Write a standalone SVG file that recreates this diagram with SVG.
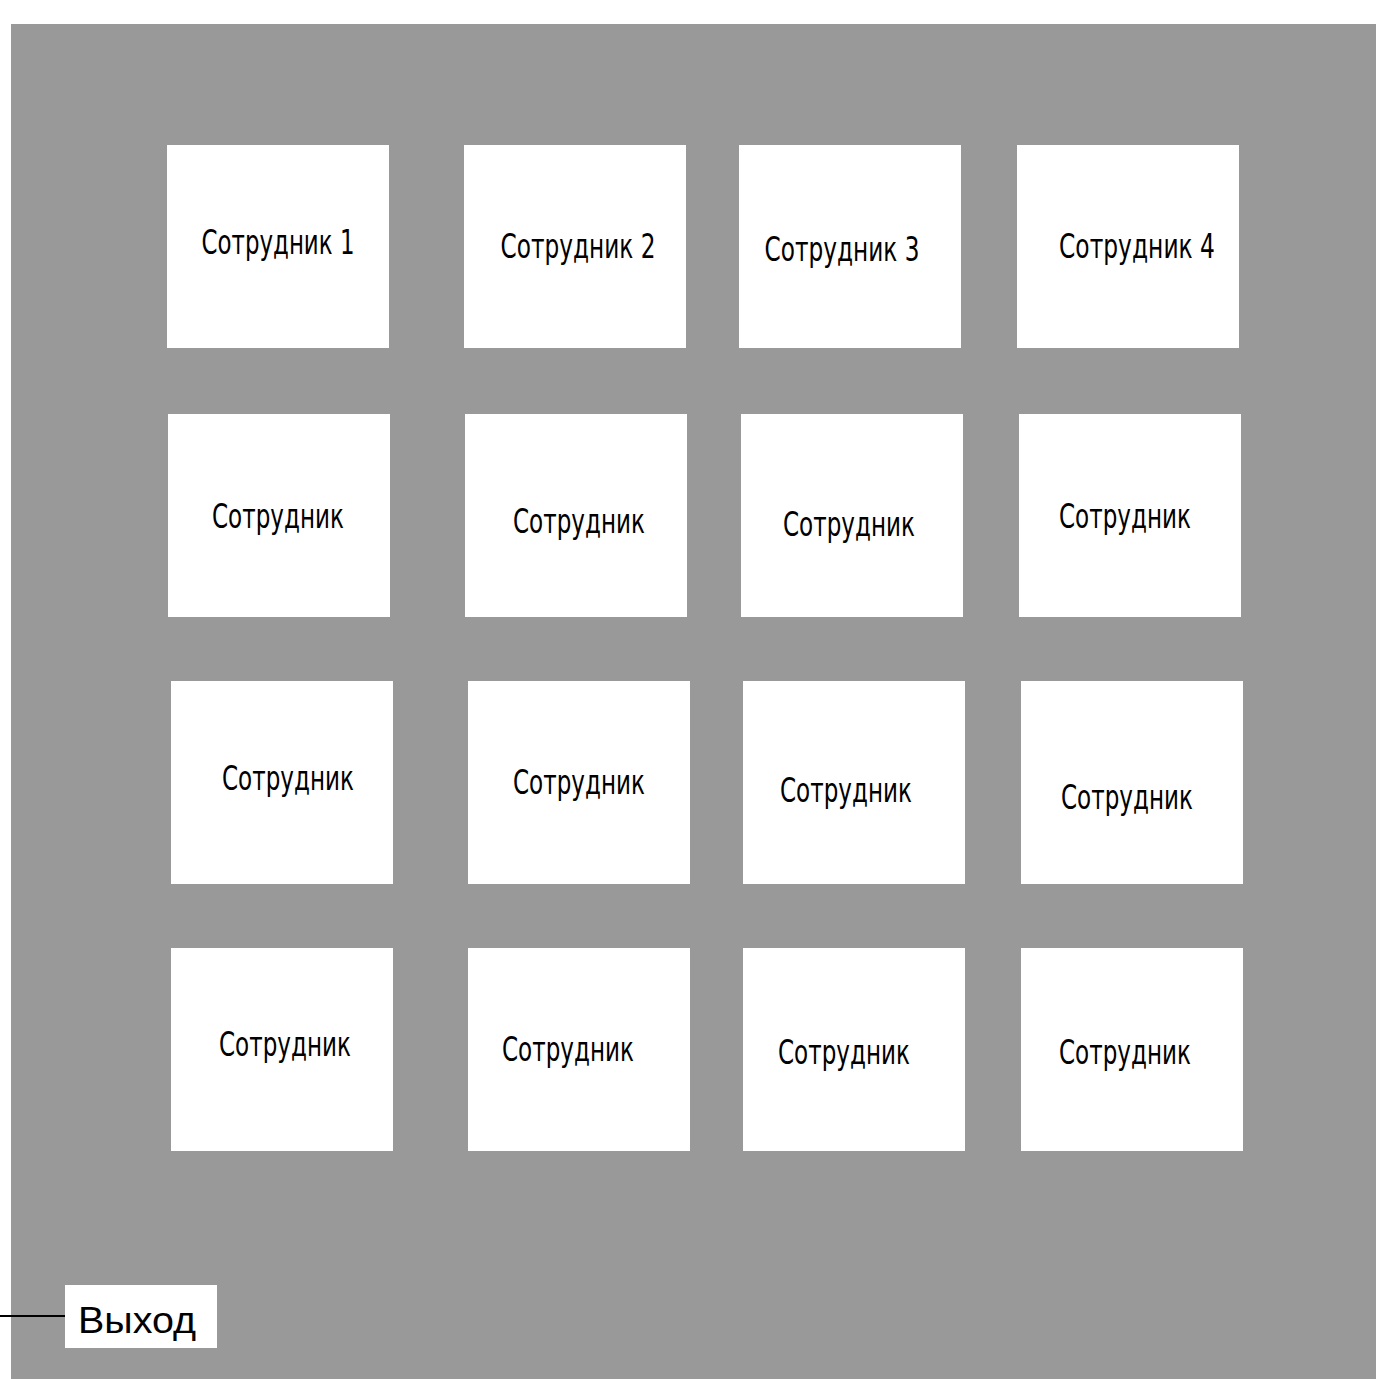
<svg xmlns="http://www.w3.org/2000/svg" width="1376" height="1379" viewBox="0 0 1376 1379">
<style>
.bg{fill:#999999}
.n{fill:#ffffff}
.t{font-family:"DejaVu Sans Condensed","DejaVu Sans",sans-serif;font-size:33px;fill:#000;text-anchor:middle}
.x{font-family:"Liberation Sans",Arial,sans-serif;font-size:36px;fill:#000}
.c{stroke:#000;stroke-width:2;fill:none}
</style>
<rect x="0" y="0" width="1376" height="1379" fill="#ffffff"/>
<rect class="bg" x="11" y="24" width="1365" height="1355"/>
<g id="connectors"><line class="c" x1="0" y1="1316" x2="65" y2="1316"/></g>
<g id="n1"><rect class="n" x="167" y="145" width="222" height="203"/><text class="t" x="278" y="254" textLength="153" lengthAdjust="spacingAndGlyphs">Сотрудник 1</text></g>
<g id="n2"><rect class="n" x="464" y="145" width="222" height="203"/><text class="t" x="578" y="258" textLength="155" lengthAdjust="spacingAndGlyphs">Сотрудник 2</text></g>
<g id="n3"><rect class="n" x="739" y="145" width="222" height="203"/><text class="t" x="842" y="261" textLength="155" lengthAdjust="spacingAndGlyphs">Сотрудник 3</text></g>
<g id="n4"><rect class="n" x="1017" y="145" width="222" height="203"/><text class="t" x="1137" y="258" textLength="156" lengthAdjust="spacingAndGlyphs">Сотрудник 4</text></g>
<g id="n5"><rect class="n" x="168" y="414" width="222" height="203"/><text class="t" x="278" y="528" textLength="132" lengthAdjust="spacingAndGlyphs">Сотрудник</text></g>
<g id="n6"><rect class="n" x="465" y="414" width="222" height="203"/><text class="t" x="579" y="533" textLength="132" lengthAdjust="spacingAndGlyphs">Сотрудник</text></g>
<g id="n7"><rect class="n" x="741" y="414" width="222" height="203"/><text class="t" x="849" y="536" textLength="132" lengthAdjust="spacingAndGlyphs">Сотрудник</text></g>
<g id="n8"><rect class="n" x="1019" y="414" width="222" height="203"/><text class="t" x="1125" y="528" textLength="132" lengthAdjust="spacingAndGlyphs">Сотрудник</text></g>
<g id="n9"><rect class="n" x="171" y="681" width="222" height="203"/><text class="t" x="288" y="790" textLength="132" lengthAdjust="spacingAndGlyphs">Сотрудник</text></g>
<g id="n10"><rect class="n" x="468" y="681" width="222" height="203"/><text class="t" x="579" y="794" textLength="132" lengthAdjust="spacingAndGlyphs">Сотрудник</text></g>
<g id="n11"><rect class="n" x="743" y="681" width="222" height="203"/><text class="t" x="846" y="802" textLength="132" lengthAdjust="spacingAndGlyphs">Сотрудник</text></g>
<g id="n12"><rect class="n" x="1021" y="681" width="222" height="203"/><text class="t" x="1127" y="809" textLength="132" lengthAdjust="spacingAndGlyphs">Сотрудник</text></g>
<g id="n13"><rect class="n" x="171" y="948" width="222" height="203"/><text class="t" x="285" y="1056" textLength="132" lengthAdjust="spacingAndGlyphs">Сотрудник</text></g>
<g id="n14"><rect class="n" x="468" y="948" width="222" height="203"/><text class="t" x="568" y="1061" textLength="132" lengthAdjust="spacingAndGlyphs">Сотрудник</text></g>
<g id="n15"><rect class="n" x="743" y="948" width="222" height="203"/><text class="t" x="844" y="1064" textLength="132" lengthAdjust="spacingAndGlyphs">Сотрудник</text></g>
<g id="n16"><rect class="n" x="1021" y="948" width="222" height="203"/><text class="t" x="1125" y="1064" textLength="132" lengthAdjust="spacingAndGlyphs">Сотрудник</text></g>
<g id="exit"><rect class="n" x="65" y="1285" width="152" height="63"/><text class="x" x="78" y="1333" textLength="118" lengthAdjust="spacingAndGlyphs">Выход</text></g>
</svg>
